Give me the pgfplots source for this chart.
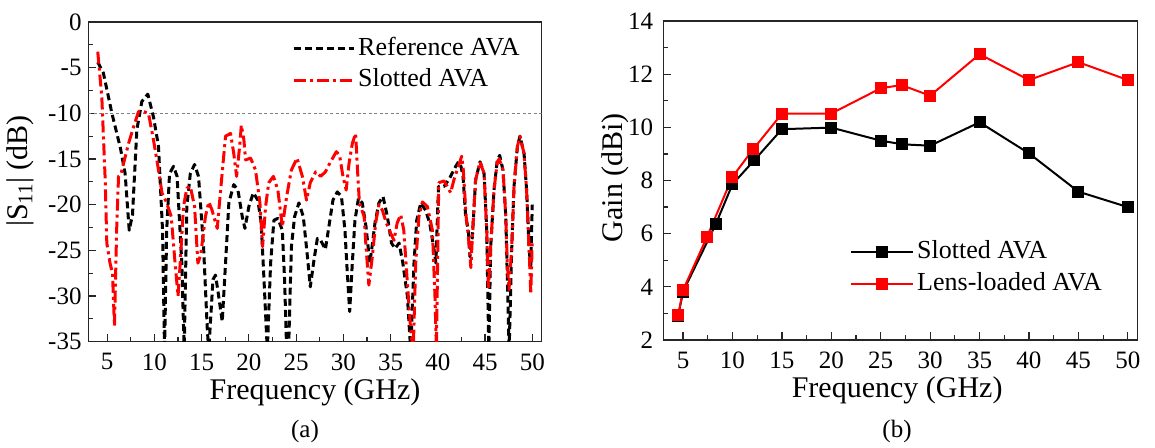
\documentclass[border=0pt]{standalone}
\usepackage{pgfplots}
\pgfplotsset{compat=1.18}
\usepackage{fontspec}
\setmainfont{Liberation Serif}

\begin{document}
\begin{tikzpicture}
\path[use as bounding box] (0pt,0pt) rectangle (1155pt,447pt);
\pgfplotsset{
  myaxis/.style={
    scale only axis, anchor=south west,
    xmin=3, xmax=51, xtick={5,10,...,50},
    minor x tick num=1, minor y tick num=1,
    tick align=inside, xtick pos=bottom, ytick pos=left,
    major tick length=8pt, minor tick length=5pt,
    axis line style={line width=1.4pt, black!85},
    tick style={line width=1.2pt, black!85},
    /pgf/number format/assume math mode=true,
    ticklabel style={font=\fontsize{25}{30}\selectfont},
    label style={font=\fontsize{30}{36}\selectfont, inner sep=0pt},
    legend style={draw=none, fill=none, font=\fontsize{26}{31}\selectfont, anchor=north west, inner sep=0pt, row sep=2.6pt, nodes={inner sep=3pt, text height=18pt, text depth=5pt}},
    legend cell align=left,
  },
}
% ---------------- (a) ----------------
\begin{axis}[myaxis, at={(88.3pt,105.3pt)}, width=453.4pt, height=319.7pt,
  ymin=-35, ymax=0, ytick={-35,-30,...,0},
  yticklabels={-35,-30,-25,-20,-15,-10,-5,0},
  xlabel={Frequency (GHz)}, ylabel={|S\textsubscript{11}| (dB)},
  xlabel style={at={(axis description cs:0.5,-0.182)}, anchor=base},
  ylabel style={at={(axis description cs:-0.1506,0.534)}, anchor=center},
  xticklabel style={inner sep=0pt, yshift=-11.7pt},
  yticklabel style={inner sep=0pt, xshift=-6.6pt},
  legend style={at={(axis description cs:0.4493,0.9625)}},
  legend image code/.code={\draw[#1] (0pt,0pt) -- (60pt,0pt);},
]
\addplot[forget plot, gray, line width=0.6pt, dash pattern=on 3pt off 2.5pt] coordinates {(3,-10) (51,-10)};
\addplot[black, line width=3pt, dash pattern=on 7pt off 4pt, line join=round] coordinates {
(4.0,-4.4) (4.6,-5.6) (5.5,-10) (6.4,-13.8) (6.9,-16.6) (7.33,-22.8) (7.68,-21.1) (8.14,-11.8)
(8.67,-8.7) (9.3,-7.9) (9.9,-10.4) (10.43,-13.6) (10.86,-22.8) (11.07,-36) (11.3,-22.8) (11.6,-16.6)
(12.02,-15.8) (12.4,-16.9) (12.9,-26.4) (13.15,-36) (13.43,-20.2) (13.8,-16.6) (14.25,-15.6) (14.67,-16.9)
(15.2,-24.6) (15.6,-33.7) (15.75,-36) (16.2,-28.2) (16.47,-27.7) (16.8,-30) (17.18,-32.8) (17.53,-26.4)
(17.88,-19.8) (18.4,-17.8) (18.84,-18.4) (19.3,-21.3) (19.58,-22.6) (20.0,-20.2) (20.47,-18.7) (20.95,-19.5)
(21.3,-22.0) (21.6,-28.2) (21.95,-36) (22.3,-26.4) (22.65,-21.7) (23.07,-21.5) (23.54,-22.8) (23.78,-28.2)
(24.0,-36) (24.2,-36) (24.5,-24.6) (24.84,-21.3) (25.3,-19.8) (25.76,-21.3) (26.2,-25.7) (26.5,-29)
(26.9,-26) (27.25,-23.7) (27.6,-23.9) (28.1,-24.9) (28.47,-22.4) (28.9,-19.5) (29.36,-18.6) (29.8,-19.1)
(30.17,-22.8) (30.4,-27.1) (30.67,-31.7) (30.95,-26.4) (31.23,-21.7) (31.6,-19.3) (32.0,-19.8) (32.4,-22.4)
(32.8,-26.4) (33.0,-24.9) (33.35,-22) (33.77,-19.8) (34.2,-19.1) (34.66,-21.3) (35.1,-24.2) (35.47,-24.8)
(35.9,-24.2) (36.3,-26.4) (36.78,-30) (37.13,-36) (37.48,-26.4) (37.77,-21.7) (38.2,-19.8) (38.7,-20.6)
(39.14,-22) (39.6,-24.9) (39.8,-26.4) (40.07,-18) (40.66,-18) (41.2,-17.2) (41.9,-15.8) (42.2,-15.3)
(42.45,-15.8) (42.67,-16.9) (42.95,-21.3) (43.24,-22.8) (43.4,-25.7) (43.66,-23.5) (44.0,-17.3) (44.47,-15.3)
(44.9,-16.6) (45.18,-22.8) (45.4,-36) (45.6,-24.6) (45.95,-18.4) (46.3,-15.1) (46.55,-14.6) (46.9,-16.2)
(47.2,-21.3) (47.55,-36) (47.83,-24.6) (48.07,-18) (48.43,-13.6) (48.7,-12.5) (49.13,-14.4) (49.4,-18.4)
(49.66,-24.6) (49.84,-27) (50.0,-20)
};
\addlegendentry{Reference AVA}
\addplot[red, line width=3pt, dash pattern=on 12pt off 4pt on 3pt off 4pt, line join=round] coordinates {
(4.0,-3.25) (4.43,-8.2) (4.79,-17.3) (4.96,-24.2) (5.3,-26.4) (5.56,-27.5) (5.77,-33.3) (6.0,-22.8)
(6.2,-16.9) (6.44,-16.7) (6.73,-15.5) (7.26,-13.3) (7.79,-11.5) (8.32,-9.8) (8.85,-9.8) (9.37,-10)
(9.9,-12.9) (10.43,-16.2) (10.8,-18.7) (11.3,-19.8) (11.78,-21.3) (12.13,-25.7) (12.5,-30) (12.73,-26.4)
(13.08,-20.2) (13.43,-18.2) (13.8,-18.0) (14.25,-20.2) (14.6,-26.4) (14.9,-25.5) (15.4,-21.3) (15.76,-19.7)
(16.1,-20.6) (16.65,-22.6) (17.2,-16.2) (17.53,-12.5) (18.06,-12.2) (18.4,-14.4) (18.7,-16.9) (19.05,-13.3)
(19.2,-11.3) (19.47,-12.9) (19.65,-15.1) (20.18,-14.9) (20.7,-16.2) (21.17,-19.8) (21.45,-24.6) (21.77,-20.2)
(22.1,-17.6) (22.6,-16.9) (23.07,-18.4) (23.54,-22.4) (24.0,-19.1) (24.5,-16.2) (25.1,-14.9) (25.66,-16.9)
(26.1,-19.5) (26.5,-17.6) (27.07,-16.4) (27.6,-16.9) (28.1,-16.4) (28.65,-15.3) (29.26,-14.2) (29.6,-14.6)
(29.96,-16.9) (30.3,-18.4) (30.6,-15.5) (30.95,-13.3) (31.3,-12.2) (31.5,-16.2) (31.7,-19.8) (32.2,-21.3)
(32.4,-24.6) (32.7,-28.8) (33.07,-25.7) (33.42,-22) (33.77,-20) (34.13,-20.6) (34.55,-22) (35.0,-23.1)
(35.36,-23.9) (35.7,-22) (36.07,-21.1) (36.4,-22.8) (36.78,-28.6) (37.13,-33.7) (37.4,-36) (37.66,-26.4)
(38.0,-21.3) (38.37,-19.7) (38.9,-20.2) (39.43,-22.8) (39.7,-30) (39.85,-36) (40.1,-17.6) (40.66,-17.4)
(41.0,-18) (41.36,-18.7) (41.7,-17.3) (42.24,-15.6) (42.53,-14.7) (42.7,-16.2) (43.0,-21.3) (43.24,-23.5)
(43.5,-26.9) (43.66,-23.5) (44.0,-17.3) (44.47,-15.3) (44.9,-16.6) (45.18,-22.8) (45.36,-29.3) (45.6,-24.6)
(45.95,-18.4) (46.3,-15.3) (46.5,-15.0) (46.9,-16.2) (47.2,-21.3) (47.35,-26.4) (47.54,-29.3) (47.83,-24.6)
(48.07,-18) (48.43,-13.6) (48.7,-12.5) (49.13,-14.4) (49.4,-18.4) (49.66,-24.6) (49.84,-29.8) (50.0,-24)
};
\addlegendentry{Slotted AVA}
\end{axis}
% ---------------- (b) ----------------
\begin{axis}[myaxis, at={(663.3pt,107pt)}, width=474.4pt, height=319pt,
  ymin=2, ymax=14, ytick={2,4,...,14},
  xlabel={Frequency (GHz)}, ylabel={Gain (dBi)},
  xlabel style={at={(axis description cs:0.493,-0.181)}, anchor=base},
  ylabel style={at={(axis description cs:-0.1018,0.509)}, anchor=center},
  xticklabel style={inner sep=0pt, yshift=-11.7pt},
  yticklabel style={inner sep=0pt, xshift=-10pt},
  legend style={at={(axis description cs:0.3936,0.322)}},
  legend image code/.code={\draw[#1, mark repeat=2, mark phase=2] plot coordinates {(0pt,0pt) (31pt,0pt) (62pt,0pt)};},
]
\addplot[black, line width=2pt, mark=square*, mark size=5pt, mark options={solid}] coordinates {
(4.5,2.9) (5,3.82) (8.3,6.35) (10,7.86) (12.2,8.76) (15,9.93) (20,9.99) (25,9.5) (27.2,9.36) (30,9.31) (35,10.19) (40,9.02) (45,7.58) (50,7.0)
};
\addlegendentry{Slotted AVA}
\addplot[red, line width=2pt, mark=square*, mark size=5pt, mark options={solid}] coordinates {
(4.5,2.94) (5,3.88) (7.4,5.86) (10,8.14) (12.1,9.18) (15,10.51) (20,10.52) (25,11.47) (27.1,11.59) (30,11.19) (35,12.75) (40,11.78) (45,12.45) (50,11.78)
};
\addlegendentry{Lens-loaded AVA}
\end{axis}
\node[anchor=base, font=\fontsize{25}{30}\selectfont] at (305pt,10pt) {(a)};
\node[anchor=base, font=\fontsize{25}{30}\selectfont] at (897pt,10pt) {(b)};
\end{tikzpicture}
\end{document}
